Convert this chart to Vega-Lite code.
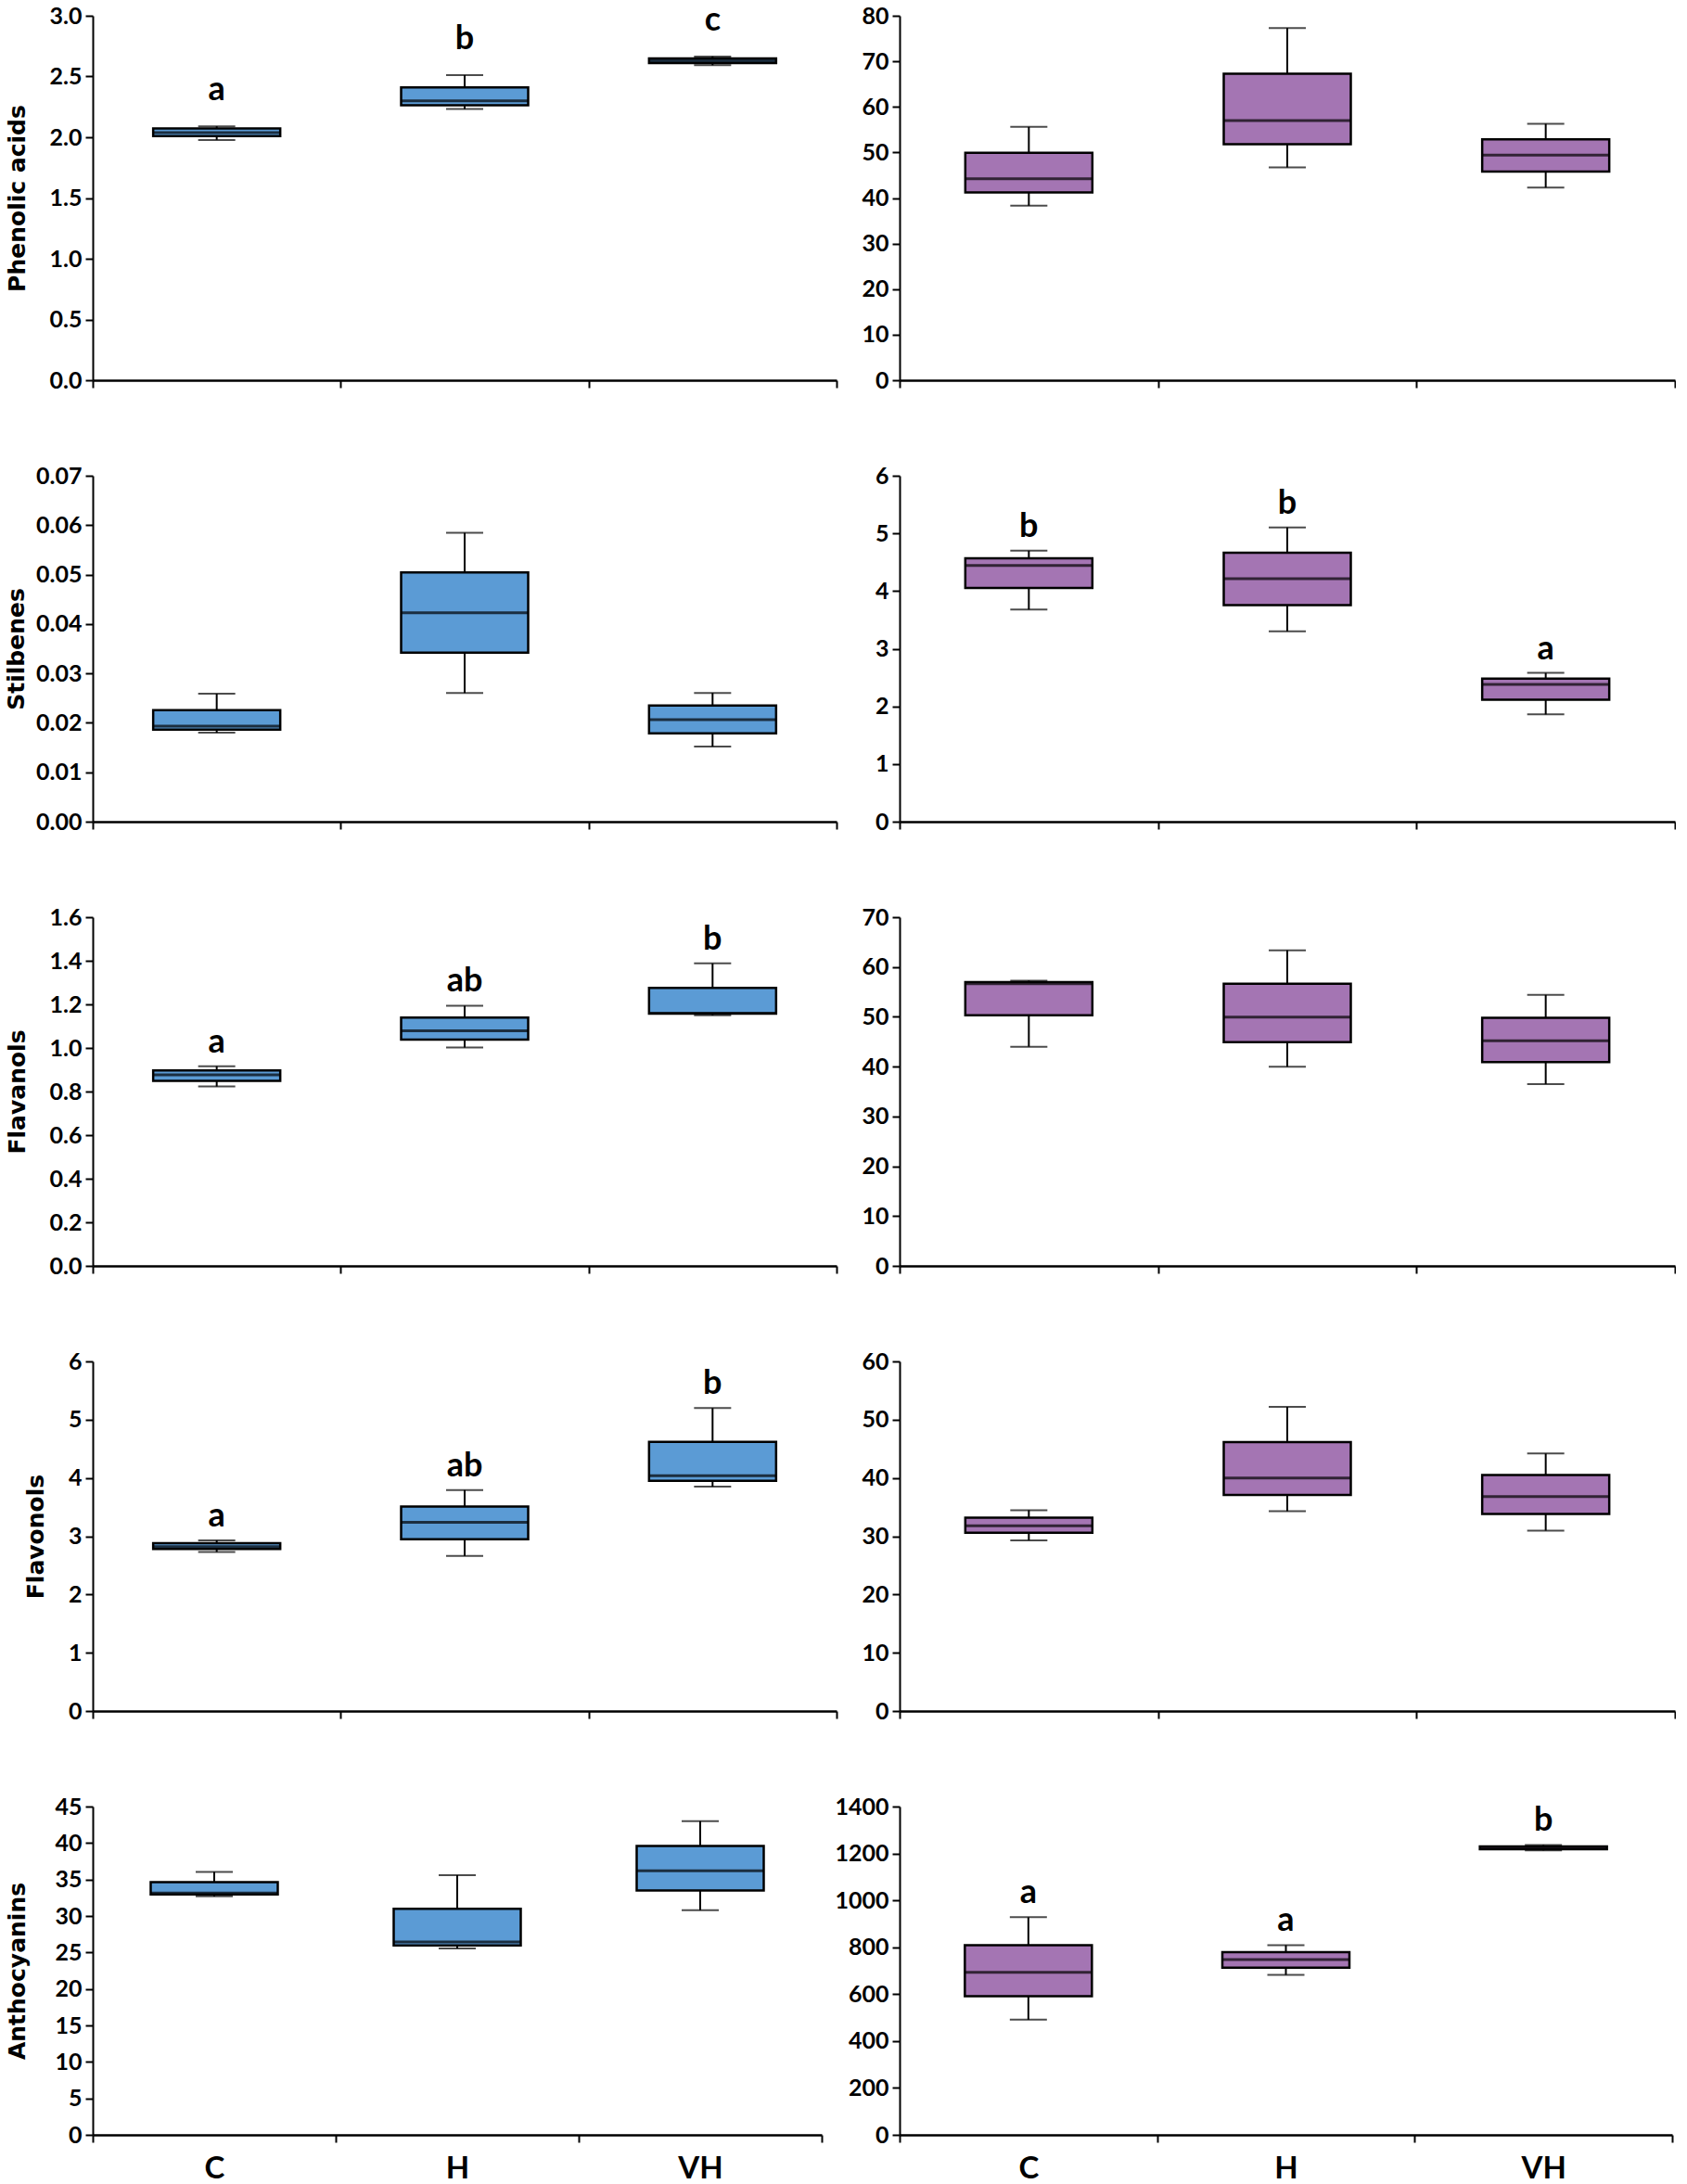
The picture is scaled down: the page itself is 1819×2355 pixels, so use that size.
{
  "$schema": "https://vega.github.io/schema/vega-lite/v6.json",
  "padding": {"left": 5, "top": 3, "right": 0, "bottom": 0},
  "background": "white",
  "datasets": {
    "boxes": [
      {"panel": "pa_l", "group": "C", "min": 1.978, "q1": 2.009, "median": 2.039, "q3": 2.072, "max": 2.09, "label": "a"},
      {"panel": "pa_l", "group": "H", "min": 2.232, "q1": 2.263, "median": 2.30, "q3": 2.41, "max": 2.512, "label": "b"},
      {"panel": "pa_l", "group": "VH", "min": 2.593, "q1": 2.611, "median": 2.629, "q3": 2.649, "max": 2.665, "label": "c"},
      {"panel": "pa_r", "group": "C", "min": 38.3, "q1": 41.2, "median": 44.2, "q3": 49.9, "max": 55.6, "label": ""},
      {"panel": "pa_r", "group": "H", "min": 46.7, "q1": 51.8, "median": 57.0, "q3": 67.3, "max": 77.3, "label": ""},
      {"panel": "pa_r", "group": "VH", "min": 42.3, "q1": 45.8, "median": 49.4, "q3": 52.9, "max": 56.3, "label": ""},
      {"panel": "st_l", "group": "C", "min": 0.018, "q1": 0.01863, "median": 0.01931, "q3": 0.02256, "max": 0.02588, "label": ""},
      {"panel": "st_l", "group": "H", "min": 0.02606, "q1": 0.03419, "median": 0.04225, "q3": 0.05044, "max": 0.05844, "label": ""},
      {"panel": "st_l", "group": "VH", "min": 0.01519, "q1": 0.01788, "median": 0.02063, "q3": 0.0235, "max": 0.02606, "label": ""},
      {"panel": "st_r", "group": "C", "min": 3.68, "q1": 4.055, "median": 4.445, "q3": 4.57, "max": 4.70, "label": "b"},
      {"panel": "st_r", "group": "H", "min": 3.30, "q1": 3.755, "median": 4.215, "q3": 4.665, "max": 5.105, "label": "b"},
      {"panel": "st_r", "group": "VH", "min": 1.86, "q1": 2.115, "median": 2.38, "q3": 2.48, "max": 2.58, "label": "a"},
      {"panel": "fa_l", "group": "C", "min": 0.823, "q1": 0.849, "median": 0.877, "q3": 0.897, "max": 0.916, "label": "a"},
      {"panel": "fa_l", "group": "H", "min": 1.002, "q1": 1.038, "median": 1.079, "q3": 1.139, "max": 1.194, "label": "ab"},
      {"panel": "fa_l", "group": "VH", "min": 1.15, "q1": 1.157, "median": 1.16, "q3": 1.276, "max": 1.388, "label": "b"},
      {"panel": "fa_r", "group": "C", "min": 44.0, "q1": 50.3, "median": 56.65, "q3": 56.96, "max": 57.27, "label": ""},
      {"panel": "fa_r", "group": "H", "min": 40.0, "q1": 44.9, "median": 49.94, "q3": 56.65, "max": 63.35, "label": ""},
      {"panel": "fa_r", "group": "VH", "min": 36.5, "q1": 40.9, "median": 45.2, "q3": 49.8, "max": 54.4, "label": ""},
      {"panel": "fo_l", "group": "C", "min": 2.73, "q1": 2.78, "median": 2.82, "q3": 2.88, "max": 2.93, "label": "a"},
      {"panel": "fo_l", "group": "H", "min": 2.66, "q1": 2.95, "median": 3.24, "q3": 3.51, "max": 3.79, "label": "ab"},
      {"panel": "fo_l", "group": "VH", "min": 3.85, "q1": 3.95, "median": 4.04, "q3": 4.62, "max": 5.20, "label": "b"},
      {"panel": "fo_r", "group": "C", "min": 29.3, "q1": 30.6, "median": 31.8, "q3": 33.2, "max": 34.47, "label": ""},
      {"panel": "fo_r", "group": "H", "min": 34.3, "q1": 37.07, "median": 40.0, "q3": 46.15, "max": 52.2, "label": ""},
      {"panel": "fo_r", "group": "VH", "min": 30.96, "q1": 33.83, "median": 36.8, "q3": 40.5, "max": 44.2, "label": ""},
      {"panel": "an_l", "group": "C", "min": 32.7, "q1": 32.95, "median": 33.16, "q3": 34.64, "max": 36.04, "label": ""},
      {"panel": "an_l", "group": "H", "min": 25.55, "q1": 25.97, "median": 26.44, "q3": 31.0, "max": 35.6, "label": ""},
      {"panel": "an_l", "group": "VH", "min": 30.8, "q1": 33.5, "median": 36.2, "q3": 39.6, "max": 43.0, "label": ""},
      {"panel": "an_r", "group": "C", "min": 491, "q1": 591, "median": 693, "q3": 809, "max": 928, "label": "a"},
      {"panel": "an_r", "group": "H", "min": 682, "q1": 713, "median": 747, "q3": 779, "max": 809, "label": "a"},
      {"panel": "an_r", "group": "VH", "min": 1213, "q1": 1218, "median": 1225, "q3": 1230, "max": 1236, "label": "b"}
    ]
  },
  "concat": [
    {
      "width": 802, "height": 393,
      "data": {"name": "boxes"},
      "transform": [{"filter": "datum.panel === 'pa_l'"}],
      "encoding": {"x": {"field": "group", "type": "nominal", "sort": ["C", "H", "VH"], "scale": {"paddingInner": 0, "paddingOuter": 0}, "axis": {"title": null, "labels": false}}},
      "layer": [
        {"mark": {"type": "rule", "color": "black", "strokeWidth": 2}, "encoding": {"y": {"field": "min", "type": "quantitative", "scale": {"domain": [0, 3], "nice": false}, "axis": {"values": [0, 0.5, 1, 1.5, 2, 2.5, 3], "format": ".1f", "labelOverlap": false, "title": "Phenolic acids", "titleX": -74, "titleBaseline": "alphabetic"}}, "y2": {"field": "max"}}},
        {"mark": {"type": "tick", "color": "black", "size": 40, "thickness": 2}, "encoding": {"y": {"field": "min", "type": "quantitative"}}},
        {"mark": {"type": "tick", "color": "black", "size": 40, "thickness": 2}, "encoding": {"y": {"field": "max", "type": "quantitative"}}},
        {"mark": {"type": "bar", "size": 137, "fill": "#5B9BD5", "stroke": "black", "strokeWidth": 2.5}, "encoding": {"y": {"field": "q1", "type": "quantitative"}, "y2": {"field": "q3"}}},
        {"mark": {"type": "tick", "color": "black", "size": 137, "thickness": 3}, "encoding": {"y": {"field": "median", "type": "quantitative"}}},
        {"mark": {"type": "text", "dy": -28, "baseline": "alphabetic", "font": "Lato", "fontWeight": "bold", "fontSize": 36, "color": "black"}, "encoding": {"y": {"field": "max", "type": "quantitative"}, "text": {"field": "label"}}}
      ]
    },
    {
      "width": 836, "height": 393,
      "data": {"name": "boxes"},
      "transform": [{"filter": "datum.panel === 'pa_r'"}],
      "encoding": {"x": {"field": "group", "type": "nominal", "sort": ["C", "H", "VH"], "scale": {"paddingInner": 0, "paddingOuter": 0}, "axis": {"title": null, "labels": false}}},
      "layer": [
        {"mark": {"type": "rule", "color": "black", "strokeWidth": 2}, "encoding": {"y": {"field": "min", "type": "quantitative", "scale": {"domain": [0, 80], "nice": false}, "axis": {"values": [0, 10, 20, 30, 40, 50, 60, 70, 80], "format": "d", "labelOverlap": false, "title": null}}, "y2": {"field": "max"}}},
        {"mark": {"type": "tick", "color": "black", "size": 40, "thickness": 2}, "encoding": {"y": {"field": "min", "type": "quantitative"}}},
        {"mark": {"type": "tick", "color": "black", "size": 40, "thickness": 2}, "encoding": {"y": {"field": "max", "type": "quantitative"}}},
        {"mark": {"type": "bar", "size": 137, "fill": "#A475B3", "stroke": "black", "strokeWidth": 2.5}, "encoding": {"y": {"field": "q1", "type": "quantitative"}, "y2": {"field": "q3"}}},
        {"mark": {"type": "tick", "color": "black", "size": 137, "thickness": 3}, "encoding": {"y": {"field": "median", "type": "quantitative"}}}
      ]
    },
    {
      "width": 802, "height": 373,
      "data": {"name": "boxes"},
      "transform": [{"filter": "datum.panel === 'st_l'"}],
      "encoding": {"x": {"field": "group", "type": "nominal", "sort": ["C", "H", "VH"], "scale": {"paddingInner": 0, "paddingOuter": 0}, "axis": {"title": null, "labels": false}}},
      "layer": [
        {"mark": {"type": "rule", "color": "black", "strokeWidth": 2}, "encoding": {"y": {"field": "min", "type": "quantitative", "scale": {"domain": [0, 0.07], "nice": false}, "axis": {"values": [0, 0.01, 0.02, 0.03, 0.04, 0.05, 0.06, 0.07], "format": ".2f", "labelOverlap": false, "title": "Stilbenes", "titleX": -75, "titleBaseline": "alphabetic"}}, "y2": {"field": "max"}}},
        {"mark": {"type": "tick", "color": "black", "size": 40, "thickness": 2}, "encoding": {"y": {"field": "min", "type": "quantitative"}}},
        {"mark": {"type": "tick", "color": "black", "size": 40, "thickness": 2}, "encoding": {"y": {"field": "max", "type": "quantitative"}}},
        {"mark": {"type": "bar", "size": 137, "fill": "#5B9BD5", "stroke": "black", "strokeWidth": 2.5}, "encoding": {"y": {"field": "q1", "type": "quantitative"}, "y2": {"field": "q3"}}},
        {"mark": {"type": "tick", "color": "black", "size": 137, "thickness": 3}, "encoding": {"y": {"field": "median", "type": "quantitative"}}}
      ]
    },
    {
      "width": 836, "height": 373,
      "data": {"name": "boxes"},
      "transform": [{"filter": "datum.panel === 'st_r'"}],
      "encoding": {"x": {"field": "group", "type": "nominal", "sort": ["C", "H", "VH"], "scale": {"paddingInner": 0, "paddingOuter": 0}, "axis": {"title": null, "labels": false}}},
      "layer": [
        {"mark": {"type": "rule", "color": "black", "strokeWidth": 2}, "encoding": {"y": {"field": "min", "type": "quantitative", "scale": {"domain": [0, 6], "nice": false}, "axis": {"values": [0, 1, 2, 3, 4, 5, 6], "format": "d", "labelOverlap": false, "title": null}}, "y2": {"field": "max"}}},
        {"mark": {"type": "tick", "color": "black", "size": 40, "thickness": 2}, "encoding": {"y": {"field": "min", "type": "quantitative"}}},
        {"mark": {"type": "tick", "color": "black", "size": 40, "thickness": 2}, "encoding": {"y": {"field": "max", "type": "quantitative"}}},
        {"mark": {"type": "bar", "size": 137, "fill": "#A475B3", "stroke": "black", "strokeWidth": 2.5}, "encoding": {"y": {"field": "q1", "type": "quantitative"}, "y2": {"field": "q3"}}},
        {"mark": {"type": "tick", "color": "black", "size": 137, "thickness": 3}, "encoding": {"y": {"field": "median", "type": "quantitative"}}},
        {"mark": {"type": "text", "dy": -15, "baseline": "alphabetic", "font": "Lato", "fontWeight": "bold", "fontSize": 36, "color": "black"}, "encoding": {"y": {"field": "max", "type": "quantitative"}, "text": {"field": "label"}}}
      ]
    },
    {
      "width": 802, "height": 376,
      "data": {"name": "boxes"},
      "transform": [{"filter": "datum.panel === 'fa_l'"}],
      "encoding": {"x": {"field": "group", "type": "nominal", "sort": ["C", "H", "VH"], "scale": {"paddingInner": 0, "paddingOuter": 0}, "axis": {"title": null, "labels": false}}},
      "layer": [
        {"mark": {"type": "rule", "color": "black", "strokeWidth": 2}, "encoding": {"y": {"field": "min", "type": "quantitative", "scale": {"domain": [0, 1.6], "nice": false}, "axis": {"values": [0, 0.2, 0.4, 0.6, 0.8, 1, 1.2, 1.4, 1.6], "format": ".1f", "labelOverlap": false, "title": "Flavanols", "titleX": -74, "titleBaseline": "alphabetic"}}, "y2": {"field": "max"}}},
        {"mark": {"type": "tick", "color": "black", "size": 40, "thickness": 2}, "encoding": {"y": {"field": "min", "type": "quantitative"}}},
        {"mark": {"type": "tick", "color": "black", "size": 40, "thickness": 2}, "encoding": {"y": {"field": "max", "type": "quantitative"}}},
        {"mark": {"type": "bar", "size": 137, "fill": "#5B9BD5", "stroke": "black", "strokeWidth": 2.5}, "encoding": {"y": {"field": "q1", "type": "quantitative"}, "y2": {"field": "q3"}}},
        {"mark": {"type": "tick", "color": "black", "size": 137, "thickness": 3}, "encoding": {"y": {"field": "median", "type": "quantitative"}}},
        {"mark": {"type": "text", "dy": -15, "baseline": "alphabetic", "font": "Lato", "fontWeight": "bold", "fontSize": 36, "color": "black"}, "encoding": {"y": {"field": "max", "type": "quantitative"}, "text": {"field": "label"}}}
      ]
    },
    {
      "width": 836, "height": 376,
      "data": {"name": "boxes"},
      "transform": [{"filter": "datum.panel === 'fa_r'"}],
      "encoding": {"x": {"field": "group", "type": "nominal", "sort": ["C", "H", "VH"], "scale": {"paddingInner": 0, "paddingOuter": 0}, "axis": {"title": null, "labels": false}}},
      "layer": [
        {"mark": {"type": "rule", "color": "black", "strokeWidth": 2}, "encoding": {"y": {"field": "min", "type": "quantitative", "scale": {"domain": [0, 70], "nice": false}, "axis": {"values": [0, 10, 20, 30, 40, 50, 60, 70], "format": "d", "labelOverlap": false, "title": null}}, "y2": {"field": "max"}}},
        {"mark": {"type": "tick", "color": "black", "size": 40, "thickness": 2}, "encoding": {"y": {"field": "min", "type": "quantitative"}}},
        {"mark": {"type": "tick", "color": "black", "size": 40, "thickness": 2}, "encoding": {"y": {"field": "max", "type": "quantitative"}}},
        {"mark": {"type": "bar", "size": 137, "fill": "#A475B3", "stroke": "black", "strokeWidth": 2.5}, "encoding": {"y": {"field": "q1", "type": "quantitative"}, "y2": {"field": "q3"}}},
        {"mark": {"type": "tick", "color": "black", "size": 137, "thickness": 3}, "encoding": {"y": {"field": "median", "type": "quantitative"}}}
      ]
    },
    {
      "width": 802, "height": 377,
      "data": {"name": "boxes"},
      "transform": [{"filter": "datum.panel === 'fo_l'"}],
      "encoding": {"x": {"field": "group", "type": "nominal", "sort": ["C", "H", "VH"], "scale": {"paddingInner": 0, "paddingOuter": 0}, "axis": {"title": null, "labels": false}}},
      "layer": [
        {"mark": {"type": "rule", "color": "black", "strokeWidth": 2}, "encoding": {"y": {"field": "min", "type": "quantitative", "scale": {"domain": [0, 6], "nice": false}, "axis": {"values": [0, 1, 2, 3, 4, 5, 6], "format": "d", "labelOverlap": false, "title": "Flavonols", "titleX": -54, "titleBaseline": "alphabetic"}}, "y2": {"field": "max"}}},
        {"mark": {"type": "tick", "color": "black", "size": 40, "thickness": 2}, "encoding": {"y": {"field": "min", "type": "quantitative"}}},
        {"mark": {"type": "tick", "color": "black", "size": 40, "thickness": 2}, "encoding": {"y": {"field": "max", "type": "quantitative"}}},
        {"mark": {"type": "bar", "size": 137, "fill": "#5B9BD5", "stroke": "black", "strokeWidth": 2.5}, "encoding": {"y": {"field": "q1", "type": "quantitative"}, "y2": {"field": "q3"}}},
        {"mark": {"type": "tick", "color": "black", "size": 137, "thickness": 3}, "encoding": {"y": {"field": "median", "type": "quantitative"}}},
        {"mark": {"type": "text", "dy": -15, "baseline": "alphabetic", "font": "Lato", "fontWeight": "bold", "fontSize": 36, "color": "black"}, "encoding": {"y": {"field": "max", "type": "quantitative"}, "text": {"field": "label"}}}
      ]
    },
    {
      "width": 836, "height": 377,
      "data": {"name": "boxes"},
      "transform": [{"filter": "datum.panel === 'fo_r'"}],
      "encoding": {"x": {"field": "group", "type": "nominal", "sort": ["C", "H", "VH"], "scale": {"paddingInner": 0, "paddingOuter": 0}, "axis": {"title": null, "labels": false}}},
      "layer": [
        {"mark": {"type": "rule", "color": "black", "strokeWidth": 2}, "encoding": {"y": {"field": "min", "type": "quantitative", "scale": {"domain": [0, 60], "nice": false}, "axis": {"values": [0, 10, 20, 30, 40, 50, 60], "format": "d", "labelOverlap": false, "title": null}}, "y2": {"field": "max"}}},
        {"mark": {"type": "tick", "color": "black", "size": 40, "thickness": 2}, "encoding": {"y": {"field": "min", "type": "quantitative"}}},
        {"mark": {"type": "tick", "color": "black", "size": 40, "thickness": 2}, "encoding": {"y": {"field": "max", "type": "quantitative"}}},
        {"mark": {"type": "bar", "size": 137, "fill": "#A475B3", "stroke": "black", "strokeWidth": 2.5}, "encoding": {"y": {"field": "q1", "type": "quantitative"}, "y2": {"field": "q3"}}},
        {"mark": {"type": "tick", "color": "black", "size": 137, "thickness": 3}, "encoding": {"y": {"field": "median", "type": "quantitative"}}}
      ]
    },
    {
      "width": 786, "height": 354,
      "data": {"name": "boxes"},
      "transform": [{"filter": "datum.panel === 'an_l'"}],
      "encoding": {"x": {"field": "group", "type": "nominal", "sort": ["C", "H", "VH"], "scale": {"paddingInner": 0, "paddingOuter": 0}, "axis": {"title": null, "labels": true}}},
      "layer": [
        {"mark": {"type": "rule", "color": "black", "strokeWidth": 2}, "encoding": {"y": {"field": "min", "type": "quantitative", "scale": {"domain": [0, 45], "nice": false}, "axis": {"values": [0, 5, 10, 15, 20, 25, 30, 35, 40, 45], "tickCount": 10, "format": "d", "labelOverlap": false, "title": "Anthocyanins", "titleX": -74, "titleBaseline": "alphabetic"}}, "y2": {"field": "max"}}},
        {"mark": {"type": "tick", "color": "black", "size": 40, "thickness": 2}, "encoding": {"y": {"field": "min", "type": "quantitative", "axis": {"values": [0, 5, 10, 15, 20, 25, 30, 35, 40, 45], "tickCount": 10, "labelOverlap": false}}}},
        {"mark": {"type": "tick", "color": "black", "size": 40, "thickness": 2}, "encoding": {"y": {"field": "max", "type": "quantitative", "axis": {"values": [0, 5, 10, 15, 20, 25, 30, 35, 40, 45], "tickCount": 10, "labelOverlap": false}}}},
        {"mark": {"type": "bar", "size": 137, "fill": "#5B9BD5", "stroke": "black", "strokeWidth": 2.5}, "encoding": {"y": {"field": "q1", "type": "quantitative", "axis": {"values": [0, 5, 10, 15, 20, 25, 30, 35, 40, 45], "tickCount": 10, "labelOverlap": false}}, "y2": {"field": "q3"}}},
        {"mark": {"type": "tick", "color": "black", "size": 137, "thickness": 3}, "encoding": {"y": {"field": "median", "type": "quantitative", "axis": {"values": [0, 5, 10, 15, 20, 25, 30, 35, 40, 45], "tickCount": 10, "labelOverlap": false}}}}
      ]
    },
    {
      "width": 833, "height": 354,
      "data": {"name": "boxes"},
      "transform": [{"filter": "datum.panel === 'an_r'"}],
      "encoding": {"x": {"field": "group", "type": "nominal", "sort": ["C", "H", "VH"], "scale": {"paddingInner": 0, "paddingOuter": 0}, "axis": {"title": null, "labels": true}}},
      "layer": [
        {"mark": {"type": "rule", "color": "black", "strokeWidth": 2}, "encoding": {"y": {"field": "min", "type": "quantitative", "scale": {"domain": [0, 1400], "nice": false}, "axis": {"values": [0, 200, 400, 600, 800, 1000, 1200, 1400], "format": "d", "labelOverlap": false, "title": null}}, "y2": {"field": "max"}}},
        {"mark": {"type": "tick", "color": "black", "size": 40, "thickness": 2}, "encoding": {"y": {"field": "min", "type": "quantitative"}}},
        {"mark": {"type": "tick", "color": "black", "size": 40, "thickness": 2}, "encoding": {"y": {"field": "max", "type": "quantitative"}}},
        {"mark": {"type": "bar", "size": 137, "fill": "#A475B3", "stroke": "black", "strokeWidth": 2.5}, "encoding": {"y": {"field": "q1", "type": "quantitative"}, "y2": {"field": "q3"}}},
        {"mark": {"type": "tick", "color": "black", "size": 137, "thickness": 3}, "encoding": {"y": {"field": "median", "type": "quantitative"}}},
        {"mark": {"type": "text", "dy": -15, "baseline": "alphabetic", "font": "Lato", "fontWeight": "bold", "fontSize": 36, "color": "black"}, "encoding": {"y": {"field": "max", "type": "quantitative"}, "text": {"field": "label"}}}
      ]
    }
  ],
  "columns": 2,
  "spacing": {"row": 103, "column": 68},
  "bounds": "flush",
  "config": {
    "view": {"stroke": null},
    "axis": {"grid": false, "domainColor": "black", "domainWidth": 2, "tickColor": "black", "tickWidth": 2, "tickSize": 8, "labelFont": "Lato", "labelFontWeight": "bold", "labelFontSize": 25, "labelColor": "black", "labelPadding": 4, "labelOverlap": false, "titleFont": "DejaVu Sans", "titleFontWeight": "bold", "titleFontSize": 25, "titleColor": "black"},
    "axisX": {"tickBand": "extent", "domainWidth": 2.5, "labelFontSize": 33, "labelPadding": 12, "labelAngle": 0}
  }
}
